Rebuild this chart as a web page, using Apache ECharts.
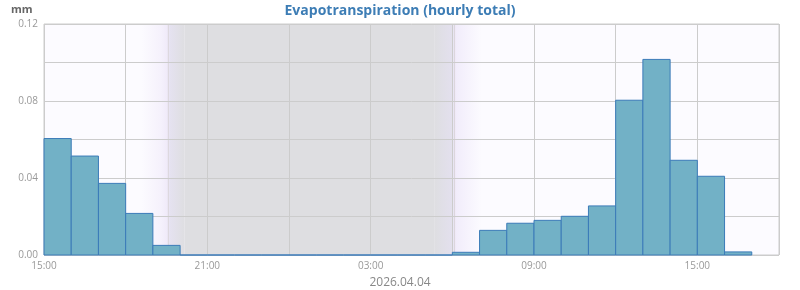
<!DOCTYPE html>
<html>
<head>
<meta charset="utf-8">
<script src="https://cdn.jsdelivr.net/npm/echarts@6/dist/echarts.min.js"></script>
<style>
  html, body { margin: 0; padding: 0; background: #ffffff; }
  #chart { width: 800px; height: 290px; }
</style>
</head>
<body>
<div id="chart"></div>
<script>
// Hourly bins, starting 2026.04.03 15:00
const hourLabels = ['15:00','16:00','17:00','18:00','19:00','20:00','21:00','22:00','23:00',
  '00:00','01:00','02:00','03:00','04:00','05:00','06:00','07:00','08:00','09:00','10:00',
  '11:00','12:00','13:00','14:00','15:00','16:00'];
const evapotranspiration = [0.0605, 0.0514, 0.0372, 0.0216, 0.0050, 0, 0, 0, 0,
  0, 0, 0, 0, 0, 0, 0.0014, 0.0128, 0.0165, 0.0180, 0.0201,
  0.0255, 0.0804, 0.1016, 0.0492, 0.0409, 0.0016];
const xTickLabels = ['15:00', '21:00', '03:00', '09:00', '15:00'];
const yTickLabels = ['0.00', '0.04', '0.08', '0.12'];
const sunEvents = ['19:34', '06:05'];           // sunset, sunrise
const twilightDusk = ['18:35', '20:10'];
const nightSpan = ['20:10', '05:20'];
const twilightDawn = ['05:20', '07:05'];

function hourOffset(t) {
  const [h, m] = t.split(':').map(Number);
  return ((h + m / 60) - 15 + 24) % 24;
}

const chart = echarts.init(document.getElementById('chart'), null, { renderer: 'canvas' });
const FONT = '"Open Sans", "Noto Sans", sans-serif';
const BG = '#fcfbff';
const NIGHT = '#dedee1';

const barData = evapotranspiration.map((v, i) => [i, v]);
const shadeData = [
  [hourOffset(twilightDusk[0]), hourOffset(twilightDusk[1]), 0],
  [hourOffset(nightSpan[0]), hourOffset(nightSpan[1]), 1],
  [hourOffset(twilightDawn[0]), hourOffset(twilightDawn[1]), 2],
  [hourOffset(sunEvents[0]), hourOffset(sunEvents[0]), 3],
  [hourOffset(sunEvents[1]), hourOffset(sunEvents[1]), 3]
];

const fills = [
  new echarts.graphic.LinearGradient(0, 0, 1, 0, [
    { offset: 0, color: BG }, { offset: 0.45, color: '#f5f1fc' }, { offset: 0.62, color: '#efe9f9' },
    { offset: 0.66, color: '#e5e2f0' }, { offset: 1, color: NIGHT }]),
  NIGHT,
  new echarts.graphic.LinearGradient(0, 0, 1, 0, [
    { offset: 0, color: NIGHT }, { offset: 0.38, color: '#e3e0ee' }, { offset: 0.44, color: '#f1ecfb' },
    { offset: 1, color: BG }])
];

chart.setOption({
  animation: false,
  backgroundColor: '#ffffff',
  title: [
    { text: 'Evapotranspiration (hourly total)', left: 'center', top: 4, padding: 0,
      textStyle: { fontFamily: FONT, fontSize: 14, fontWeight: 'bold', color: '#3d7db5' } },
    { text: 'mm', left: 11, top: 4, padding: 0,
      textStyle: { fontFamily: FONT, fontSize: 11, fontWeight: 'bold', color: '#666' } },
    { text: '2026.04.04', left: 'center', top: 277, padding: 0,
      textStyle: { fontFamily: FONT, fontSize: 12, fontWeight: 'normal', color: '#888' } }
  ],
  grid: { left: 44, right: 21, top: 24, bottom: 35, show: true,
    backgroundColor: BG, borderColor: '#cccccc', borderWidth: 1 },
  xAxis: {
    type: 'value', min: 0, max: 27, interval: 3, z: 2,
    axisLine: { show: false }, axisTick: { show: false },
    axisLabel: { fontFamily: FONT, fontSize: 10, color: '#999', margin: 6,
      formatter: v => (v % 6 === 0 ? xTickLabels[v / 6] || '' : '') },
    splitLine: { show: true, lineStyle: { color: '#cccccc', width: 1 } }
  },
  yAxis: {
    type: 'value', min: 0, max: 0.12, interval: 0.02, z: 2,
    axisLine: { show: false }, axisTick: { show: false },
    axisLabel: { fontFamily: FONT, fontSize: 10, color: '#999', margin: 6,
      formatter: v => { const k = Math.round(v / 0.02); return k % 2 === 0 ? yTickLabels[k / 2] : ''; } },
    splitLine: { show: true, lineStyle: { color: '#cccccc', width: 1 } }
  },
  series: [
    {
      type: 'custom', z: 1, silent: true,
      data: shadeData,
      encode: { x: [0, 1] },
      renderItem: (params, api) => {
        const a = api.value(0), b = api.value(1), kind = api.value(2);
        const p0 = api.coord([a, 0.12]);
        const p1 = api.coord([b, 0]);
        if (kind === 3) {
          return { type: 'line', shape: { x1: p0[0], y1: p0[1], x2: p0[0], y2: p1[1] },
            style: { stroke: '#d9d4da', lineWidth: 1 } };
        }
        return { type: 'rect', shape: { x: p0[0], y: p0[1], width: p1[0] - p0[0], height: p1[1] - p0[1] },
          style: { fill: fills[kind] } };
      }
    },
    {
      type: 'custom', z: 3, name: 'ET',
      data: barData,
      encode: { x: 0, y: 1 },
      renderItem: (params, api) => {
        const s = api.value(0), v = api.value(1);
        const p0 = api.coord([s, v]);
        const p1 = api.coord([s + 1, 0]);
        return { type: 'rect',
          shape: { x: p0[0], y: p0[1], width: p1[0] - p0[0], height: p1[1] - p0[1] },
          style: { fill: '#72b1c6', stroke: '#3b7bb8', lineWidth: 1 } };
      }
    }
  ]
});
</script>
</body>
</html>
